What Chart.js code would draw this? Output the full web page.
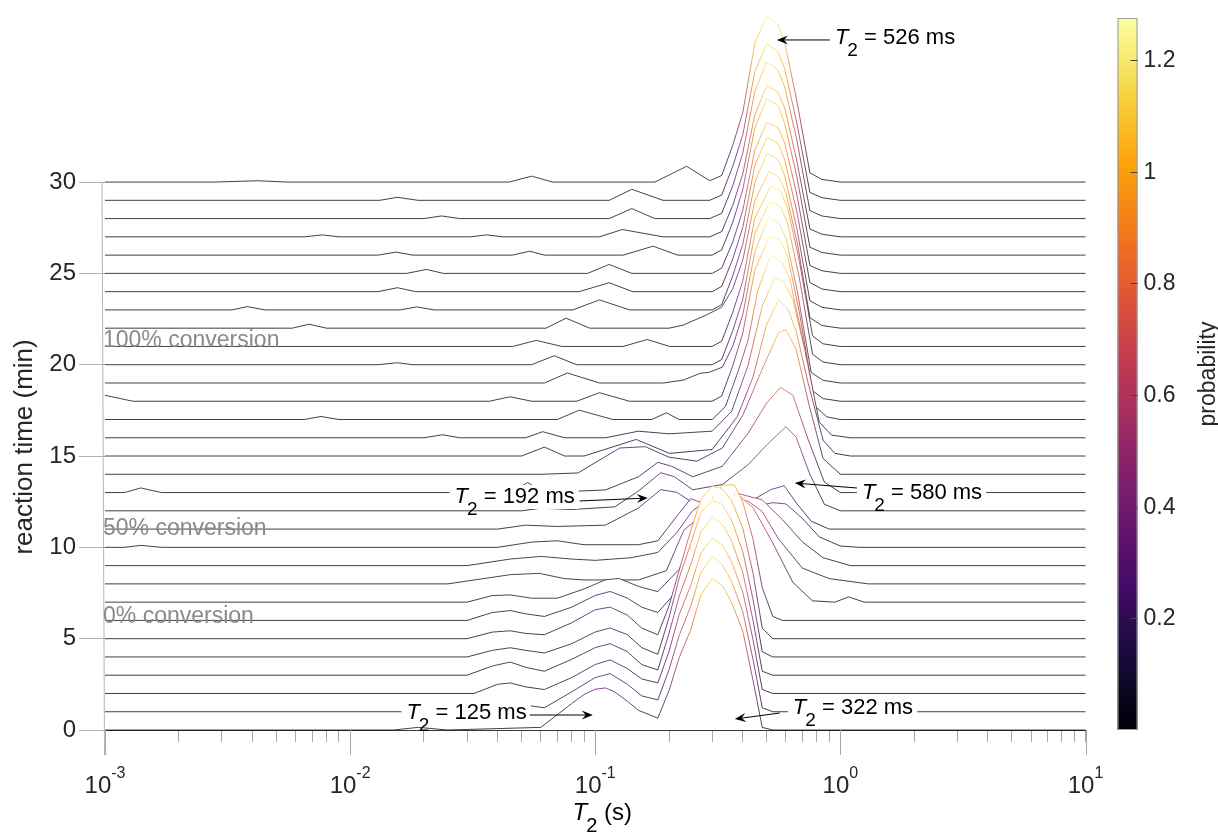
<!DOCTYPE html>
<html>
<head>
<meta charset="utf-8">
<title>T2 distributions during the reaction</title>
<script src="https://cdn.jsdelivr.net/npm/chart.js@4.4.1/dist/chart.umd.min.js"></script>
<style>
  html, body { margin: 0; padding: 0; background: #fff; }
  #wrap { width: 1218px; height: 839px; position: relative; }
</style>
</head>
<body>
<div id="wrap"><canvas id="ridge"></canvas></div>
<script>
// reaction time of each measured distribution (min)
const reactionTimes = [0, 1, 2, 3, 4, 5, 6, 7, 8, 9, 10, 11, 12, 13, 14, 15,
  16, 17, 18, 19, 20, 21, 22, 23, 24, 25, 26, 27, 28, 29, 30];

// one row per reaction time: [T2 (ms), probability]
const spectra = [
  [[1,0],[15,0],[19,.02],[25,0],[60,.02],[80,.2],[90,.27],[100,.31],[110,.32],[120,.29],[135,.22],[150,.15],[180,.09],[200,.3],[220,.55],[245,.76],[270,1.03],[300,1.15],[330,1.1],[360,.97],[400,.75],[440,.38],[480,.02],[530,0],[10000,0]],
  [[1,0],[32,0],[40,.06],[45,.075],[52,.05],[62,.03],[80,.15],[100,.26],[115,.29],[135,.21],[155,.12],[180,.09],[200,.32],[220,.58],[245,.8],[270,1.06],[300,1.18],[330,1.12],[360,.99],[400,.76],[440,.4],[480,.03],[530,0],[10000,0]],
  [[1,0],[32,0],[40,.07],[45,.08],[52,.05],[62,.03],[80,.12],[100,.22],[115,.255],[135,.19],[155,.11],[180,.08],[200,.32],[220,.6],[245,.82],[270,1.07],[300,1.18],[330,1.13],[360,1.0],[400,.77],[440,.41],[480,.03],[530,0],[10000,0]],
  [[1,0],[30,0],[38,.07],[45,.1],[52,.06],[62,.03],[80,.12],[100,.21],[115,.24],[135,.18],[155,.08],[180,.04],[200,.32],[220,.6],[245,.84],[270,1.09],[300,1.2],[330,1.15],[360,1.02],[400,.78],[440,.42],[480,.03],[530,0],[10000,0]],
  [[1,0],[30,0],[38,.05],[45,.07],[52,.05],[62,.03],[80,.1],[100,.19],[115,.22],[135,.17],[155,.07],[180,.02],[200,.3],[220,.6],[245,.86],[270,1.1],[300,1.19],[330,1.16],[360,1.04],[400,.8],[440,.44],[480,.04],[530,0],[10000,0]],
  [[1,0],[30,0],[38,.05],[45,.06],[52,.04],[62,.03],[80,.12],[100,.22],[115,.24],[135,.18],[155,.08],[180,.03],[200,.25],[220,.52],[245,.82],[270,1.06],[300,1.16],[330,1.14],[360,1.05],[400,.84],[440,.5],[480,.08],[530,0],[10000,0]],
  [[1,0],[30,0],[38,.06],[45,.075],[52,.05],[62,.03],[80,.1],[100,.19],[115,.22],[135,.17],[155,.1],[180,.06],[210,.2],[245,.55],[280,.85],[330,1.03],[370,1.03],[400,.9],[440,.62],[480,.25],[530,.03],[580,0],[10000,0]],
  [[1,0],[30,0],[38,.05],[45,.055],[55,.03],[70,.03],[90,.1],[110,.17],[125,.18],[150,.12],[180,.08],[220,.25],[270,.55],[330,.78],[380,.82],[440,.72],[530,.45],[640,.15],[770,.01],[950,0],[1080,.04],[1250,0],[10000,0]],
  [[1,0],[25,0],[35,.04],[45,.07],[59,.08],[75,.04],[90,.03],[150,.03],[195,.1],[230,.41],[290,.56],[370,.63],[420,.63],[480,.55],[560,.34],[700,.12],[900,.04],[1300,0],[10000,0]],
  [[1,0],[30,0],[45,.05],[60,.07],[80,.05],[100,.04],[140,.06],[180,.1],[215,.25],[250,.42],[300,.52],[380,.55],[480,.5],[580,.35],[700,.18],[850,.06],[1100,0],[10000,0]],
  [[1,0],[1.2,0],[1.4,.015],[1.7,0],[40,0],[55,.04],[70,.05],[90,.02],[150,.02],[180,.05],[220,.26],[245,.37],[280,.33],[330,.3],[420,.3],[530,.34],[600,.33],[700,.22],[820,.08],[1000,.01],[1200,0],[10000,0]],
  [[1,0],[40,0],[52,.03],[70,.02],[110,.03],[150,.16],[185,.3],[215,.28],[260,.18],[320,.15],[420,.2],[520,.3],[590,.33],[660,.2],[760,.06],[900,0],[10000,0]],
  [[1,0],[50,0],[60,.02],[80,.01],[120,.03],[150,.15],[185,.29],[210,.26],[250,.16],[330,.2],[420,.35],[500,.5],[600,.64],[660,.56],[750,.28],[860,.05],[1000,0],[10000,0]],
  [[1,0],[1.2,0],[1.4,.035],[1.7,0],[45,0],[53,.076],[62,0],[110,.02],[150,.12],[180,.23],[205,.2],[250,.12],[330,.2],[420,.45],[500,.68],[570,.8],[640,.74],[740,.4],[860,.08],[1000,0],[10000,0]],
  [[1,0],[60,0],[85,.01],[126,.2],[160,.21],[200,.13],[260,.1],[330,.2],[400,.45],[480,.8],[560,1.08],[600,1.1],[660,.95],[740,.55],[850,.12],[1000,0],[10000,0]],
  [[1,0],[50,0],[62,.068],[75,0],[90,0],[147,.126],[201,.02],[300,.05],[380,.3],[440,.6],[500,1.0],[560,1.19],[610,1.12],[660,.95],[740,.55],[850,.12],[950,.02],[1100,0],[10000,0]],
  [[1,0],[20,0],[23.8,.023],[28,0],[52,0],[61,.046],[75,0],[110,0],[150,.05],[200,.03],[300,.05],[360,.2],[420,.55],[480,1.0],[540,1.22],[590,1.18],[640,1.05],[720,.65],[820,.12],[920,.02],[1100,0],[10000,0]],
  [[1,0],[6.5,0],[7.6,.023],[9,0],[70,0],[86,.071],[118,0],[170,0],[195,.051],[220,0],[300,0],[340,.1],[380,.35],[420,.6],[460,.98],[520,1.25],[575,1.2],[620,1.08],[690,.68],[790,.1],[880,.02],[1000,0],[10000,0]],
  [[1,.045],[1.3,0],[37,0],[45,.034],[55,0],[84,0],[104,.065],[138,0],[300,0],[328,.04],[364,.27],[400,.52],[448,1.0],[515,1.26],[570,1.22],[610,1.1],[680,.68],[770,.08],[850,.02],[1000,0],[10000,0]],
  [[1,0],[62,0],[77,.076],[104,0],[190,0],[230,.023],[267,.073],[290,.08],[330,.12],[364,.28],[400,.52],[448,1.0],[510,1.26],[560,1.22],[600,1.1],[670,.68],[760,.08],[850,.02],[1000,0],[10000,0]],
  [[1,0],[13,0],[15.6,.015],[18,0],[55,0],[68,.068],[84,0],[300,0],[328,.04],[364,.26],[400,.5],[448,1.0],[515,1.24],[570,1.2],[610,1.07],[680,.66],[770,.08],[850,.02],[1000,0],[10000,0]],
  [[1,0],[46,0],[57.5,.046],[73,0],[130,0],[163,.053],[201,0],[300,0],[328,.04],[364,.26],[400,.5],[448,.98],[520,1.22],[570,1.18],[610,1.05],[680,.65],[770,.08],[850,.02],[1000,0],[10000,0]],
  [[1,0],[5.8,0],[6.8,.03],[8,0],[63,0],[76,.076],[95,0],[200,0],[228,.023],[284,.1],[328,.16],[364,.3],[400,.52],[448,.97],[510,1.19],[560,1.15],[600,1.03],[670,.63],[751,.08],[841,.02],[1000,0],[10000,0]],
  [[1,0],[3.3,0],[3.8,.025],[4.5,0],[16,0],[18.7,.023],[22,0],[81,0],[104,.076],[138,0],[300,0],[328,.04],[364,.26],[400,.5],[448,.97],[501,1.19],[556,1.15],[593,1.02],[664,.62],[751,.07],[841,.02],[1000,0],[10000,0]],
  [[1,0],[13,0],[15.6,.03],[18.5,0],[86,0],[114,.068],[142,0],[300,0],[328,.04],[364,.25],[400,.49],[448,.96],[501,1.17],[556,1.13],[593,1.0],[664,.61],[751,.07],[841,.02],[1000,0],[10000,0]],
  [[1,0],[17,0],[20.5,.03],[24,0],[93,0],[114,.068],[141,0],[300,0],[328,.04],[364,.24],[400,.48],[448,.94],[501,1.15],[556,1.11],[593,.99],[664,.6],[751,.06],[841,.02],[1000,0],[10000,0]],
  [[1,0],[13,0],[15.4,.023],[18,0],[46,0],[54,.03],[62,0],[130,0],[172,.068],[217,0],[300,0],[328,.04],[364,.25],[400,.5],[448,.97],[501,1.19],[556,1.14],[593,1.0],[664,.6],[751,.06],[841,.02],[1000,0],[10000,0]],
  [[1,0],[6.5,0],[7.7,.015],[9,0],[31,0],[36,.015],[42,0],[104,0],[129,.056],[189,0],[293,0],[328,.04],[364,.24],[400,.48],[448,.93],[501,1.15],[556,1.1],[593,.98],[664,.58],[751,.06],[841,.02],[1000,0],[10000,0]],
  [[1,0],[20,0],[23.6,.02],[28,0],[114,0],[141,.076],[175,0],[293,0],[328,.04],[364,.25],[400,.5],[448,.97],[501,1.19],[556,1.13],[593,1.0],[664,.6],[751,.06],[841,.02],[1000,0],[10000,0]],
  [[1,0],[13.2,0],[15.6,.023],[18.9,0],[114,0],[141,.084],[189,0],[293,0],[328,.04],[364,.26],[400,.5],[448,.98],[501,1.19],[556,1.13],[593,1.0],[664,.59],[751,.06],[841,.02],[1000,0],[10000,0]],
  [[1,0],[2.8,0],[4.2,.01],[5.5,0],[44.6,0],[55,.045],[67,0],[175,0],[236,.12],[293,.01],[328,.05],[364,.28],[400,.53],[448,1.06],[501,1.26],[556,1.2],[593,1.06],[664,.62],[751,.07],[841,.02],[1000,0],[10000,0]]
];

const timeTicks = [0, 5, 10, 15, 20, 25, 30];
const t2Decades = [0.001, 0.01, 0.1, 1, 10];
const t2Exponents = ['-3', '-2', '-1', '0', '1'];
const t2Minor = [2, 3, 4, 5, 6, 7, 8, 9];
const probabilityTicks = [0.2, 0.4, 0.6, 0.8, 1, 1.2];
const probabilityMax = 1.275;

const conversionText = ['0% conversion', '50% conversion', '100% conversion'];
const conversionAt = [5.85, 10.7, 20.95];

// peak labels: value (ms), arrow tip, arrow tail, text anchor as [T2 (s), min], text side
const peakValues = [526, 580, 192, 125, 322];
const peakTips = [[0.551, 37.78], [0.652, 13.52], [0.1638, 12.70], [0.0977, 0.82], [0.371, 0.60]];
const peakTails = [[0.906, 37.78], [1.168, 13.25], [0.0864, 12.54], [0.054, 0.82], [0.566, 0.93]];
const peakText = [[0.95, 37.89], [1.224, 12.98], [0.0825, 12.76], [0.0525, 0.93], [0.64, 1.2]];
const peakAlign = ['left', 'left', 'right', 'right', 'left'];

const ridgeScale = 7.2;   // minutes of vertical offset per unit probability
const FONT = "'Liberation Sans', Arial, sans-serif";

// inferno colour map, evenly spaced stops
const inferno = ['#000004', '#160b39', '#420a68', '#6a176e', '#932667', '#bc3754',
  '#dd513a', '#f37819', '#fca50a', '#f6d746', '#fcffa4'];
const infernoRgb = inferno.map(h => [1, 3, 5].map(i => parseInt(h.substr(i, 2), 16)));

function colorAt(p) {
  const t = Math.max(0, Math.min(1, p / probabilityMax)) * (inferno.length - 1);
  const i = Math.min(inferno.length - 2, Math.floor(t));
  const f = t - i;
  const a = infernoRgb[i], b = infernoRgb[i + 1];
  const c = a.map((v, k) => Math.round(v + (b[k] - v) * f));
  return `rgb(${c[0]},${c[1]},${c[2]})`;
}

function segmentColor(ctx) {
  const row = spectra[ctx.datasetIndex];
  const a = row[ctx.p0DataIndex][1];
  const b = row[ctx.p1DataIndex][1];
  if (Math.abs(a - b) < 0.004) return colorAt(a);
  const g = ctx.chart.ctx.createLinearGradient(ctx.p0.x, ctx.p0.y, ctx.p1.x, ctx.p1.y);
  g.addColorStop(0, colorAt(a));
  g.addColorStop(1, colorAt(b));
  return g;
}

const datasets = spectra.map((row, i) => ({
  data: row.map(([ms, p]) => ({ x: ms / 1000, y: reactionTimes[i] + ridgeScale * p })),
  borderColor: '#000',
  borderWidth: 0.75,
  pointRadius: 0,
  tension: 0,
  fill: 'start',
  backgroundColor: '#ffffff',
  clip: false,
  segment: { borderColor: segmentColor }
}));

// italic T with subscript 2, followed by plain text; returns total width
function drawT2(ctx, x, y, rest, size, measureOnly) {
  const sub = Math.round(size * 0.85);
  ctx.save();
  ctx.textBaseline = 'middle';
  ctx.textAlign = 'left';
  ctx.font = `italic ${size}px ${FONT}`;
  const wT = ctx.measureText('T').width;
  ctx.font = `${sub}px ${FONT}`;
  const w2 = ctx.measureText('2').width;
  ctx.font = `${size}px ${FONT}`;
  const wr = ctx.measureText(rest).width;
  if (!measureOnly) {
    ctx.fillStyle = '#000';
    ctx.font = `italic ${size}px ${FONT}`;
    ctx.fillText('T', x, y);
    ctx.font = `${sub}px ${FONT}`;
    ctx.fillText('2', x + wT - 1, y + size * 0.58);
    ctx.font = `${size}px ${FONT}`;
    ctx.fillText(rest, x + wT + w2 - 1, y);
  }
  ctx.restore();
  return wT + w2 + wr - 1;
}

function drawArrow(ctx, x0, y0, x1, y1) {
  const ang = Math.atan2(y1 - y0, x1 - x0);
  const len = 11, half = 4.5;
  ctx.save();
  ctx.strokeStyle = '#000';
  ctx.fillStyle = '#000';
  ctx.lineWidth = 1;
  ctx.beginPath();
  ctx.moveTo(x0, y0);
  ctx.lineTo(x1 - Math.cos(ang) * 4, y1 - Math.sin(ang) * 4);
  ctx.stroke();
  ctx.translate(x1, y1);
  ctx.rotate(ang);
  ctx.beginPath();
  ctx.moveTo(0, 0);
  ctx.lineTo(-len, -half);
  ctx.lineTo(-len + 4, 0);
  ctx.lineTo(-len, half);
  ctx.closePath();
  ctx.fill();
  ctx.restore();
}

const decor = {
  id: 'decor',
  afterDatasetsDraw(chart) {
    const { ctx, chartArea } = chart;
    const xs = chart.scales.x, ys = chart.scales.y;

    // time axis line
    ctx.save();
    ctx.strokeStyle = '#b4b4b4';
    ctx.lineWidth = 1;
    ctx.beginPath();
    ctx.moveTo(chartArea.left - 3, ys.getPixelForValue(30));
    ctx.lineTo(chartArea.left - 0.5, ys.getPixelForValue(0) + 25);
    ctx.stroke();

    // conversion markers
    ctx.fillStyle = '#8a8a8a';
    ctx.font = `23px ${FONT}`;
    ctx.textBaseline = 'alphabetic';
    ctx.textAlign = 'left';
    conversionText.forEach((t, i) => {
      ctx.fillText(t, chartArea.left - 2, ys.getPixelForValue(conversionAt[i]));
    });
    ctx.restore();

    // peak labels with arrows
    peakValues.forEach((v, i) => {
      const rest = ` = ${v} ms`;
      const w = drawT2(ctx, 0, 0, rest, 22, true);
      const tx = xs.getPixelForValue(peakText[i][0]);
      const ty = ys.getPixelForValue(peakText[i][1]);
      const left = peakAlign[i] === 'left' ? tx : tx - w;
      ctx.save();
      ctx.fillStyle = '#fff';
      ctx.fillRect(left - 5, ty - 12, w + 9, 24);
      ctx.restore();
      drawT2(ctx, left, ty, rest, 22);
      drawArrow(ctx,
        xs.getPixelForValue(peakTails[i][0]), ys.getPixelForValue(peakTails[i][1]),
        xs.getPixelForValue(peakTips[i][0]), ys.getPixelForValue(peakTips[i][1]));
    });
  },
  afterDraw(chart) {
    const { ctx, chartArea } = chart;
    const xs = chart.scales.x, ys = chart.scales.y;
    const base = chartArea.bottom;

    ctx.save();
    // long marks at each decade
    ctx.strokeStyle = '#a8a8a8';
    ctx.lineWidth = 1;
    t2Decades.forEach(v => {
      const x = Math.round(xs.getPixelForValue(v)) + 0.5;
      ctx.beginPath();
      ctx.moveTo(x, base);
      ctx.lineTo(x, base + 25);
      ctx.stroke();
    });

    // decade labels 10^n
    ctx.fillStyle = '#262626';
    ctx.textBaseline = 'alphabetic';
    t2Decades.forEach((v, i) => {
      ctx.font = `24px ${FONT}`;
      const wb = ctx.measureText('10').width;
      ctx.font = `16px ${FONT}`;
      const we = ctx.measureText(t2Exponents[i]).width;
      const x0 = xs.getPixelForValue(v) - (wb + we) / 2;
      ctx.font = `24px ${FONT}`;
      ctx.fillText('10', x0, base + 63);
      ctx.font = `16px ${FONT}`;
      ctx.fillText(t2Exponents[i], x0 + wb, base + 48);
    });

    // axis titles
    const wt = drawT2(ctx, 0, 0, ' (s)', 24, true);
    drawT2(ctx, (chartArea.left + chartArea.right) / 2 - wt / 2 + 7, base + 83, ' (s)', 24);

    ctx.save();
    ctx.translate(25, ys.getPixelForValue(15.5));
    ctx.rotate(-Math.PI / 2);
    ctx.fillStyle = '#262626';
    ctx.font = `26px ${FONT}`;
    ctx.textAlign = 'center';
    ctx.textBaseline = 'middle';
    ctx.fillText('reaction time (min)', 0, 0);
    ctx.restore();

    // colour bar
    const cbL = chartArea.right + 32, cbW = 20;
    const cbBottom = base, cbTop = 18;
    const py = p => cbBottom - (p / probabilityMax) * (cbBottom - cbTop);
    const grad = ctx.createLinearGradient(0, cbBottom, 0, cbTop);
    inferno.forEach((c, i) => grad.addColorStop(i / (inferno.length - 1), c));
    ctx.fillStyle = grad;
    ctx.fillRect(cbL, cbTop, cbW, cbBottom - cbTop);
    ctx.strokeStyle = '#9a9a9a';
    ctx.lineWidth = 1;
    ctx.strokeRect(cbL + 0.5, cbTop + 0.5, cbW - 1, cbBottom - cbTop - 1);
    ctx.strokeStyle = '#444';
    ctx.fillStyle = '#262626';
    ctx.font = `23px ${FONT}`;
    ctx.textBaseline = 'middle';
    ctx.textAlign = 'left';
    probabilityTicks.forEach(p => {
      const y = Math.round(py(p)) + 0.5;
      ctx.beginPath();
      ctx.moveTo(cbL + cbW - 7, y);
      ctx.lineTo(cbL + cbW, y);
      ctx.stroke();
      ctx.fillText(String(p), cbL + cbW + 6, y);
    });
    ctx.translate(cbL + cbW + 71, (cbTop + cbBottom) / 2);
    ctx.rotate(-Math.PI / 2);
    ctx.textAlign = 'center';
    ctx.fillText('probability', 0, 0);
    ctx.restore();
  }
};

new Chart(document.getElementById('ridge'), {
  type: 'line',
  data: { datasets },
  options: {
    responsive: true,
    maintainAspectRatio: false,
    animation: false,
    events: [],
    layout: { padding: { top: 8, right: 132.5, bottom: 0, left: 0 } },
    plugins: { legend: { display: false }, tooltip: { enabled: false } },
    scales: {
      x: {
        type: 'logarithmic',
        min: 0.001,
        max: 10,
        afterBuildTicks(scale) {
          const ticks = [];
          t2Decades.forEach((d, i) => {
            ticks.push({ value: d });
            if (i < t2Decades.length - 1) t2Minor.forEach(m => ticks.push({ value: m * d }));
          });
          scale.ticks = ticks;
        },
        afterFit(scale) {
          scale.height = 109;
          scale.paddingLeft = 0;
          scale.paddingRight = 0;
        },
        ticks: { display: false },
        grid: { drawOnChartArea: false, drawTicks: true, tickLength: 12, color: '#a8a8a8' },
        border: { display: true, color: '#3a3a3a', width: 1 }
      },
      y: {
        type: 'linear',
        min: 0,
        max: 39.53,
        afterBuildTicks(scale) { scale.ticks = timeTicks.map(v => ({ value: v })); },
        afterFit(scale) {
          scale.width = 105;
          scale.paddingTop = 0;
          scale.paddingBottom = 0;
        },
        ticks: { color: '#262626', padding: 3, font: { size: 24, family: FONT } },
        grid: { drawOnChartArea: false, drawTicks: true, tickLength: 26, color: '#b0b0b0' },
        border: { display: false }
      }
    }
  },
  plugins: [decor]
});
</script>
</body>
</html>
